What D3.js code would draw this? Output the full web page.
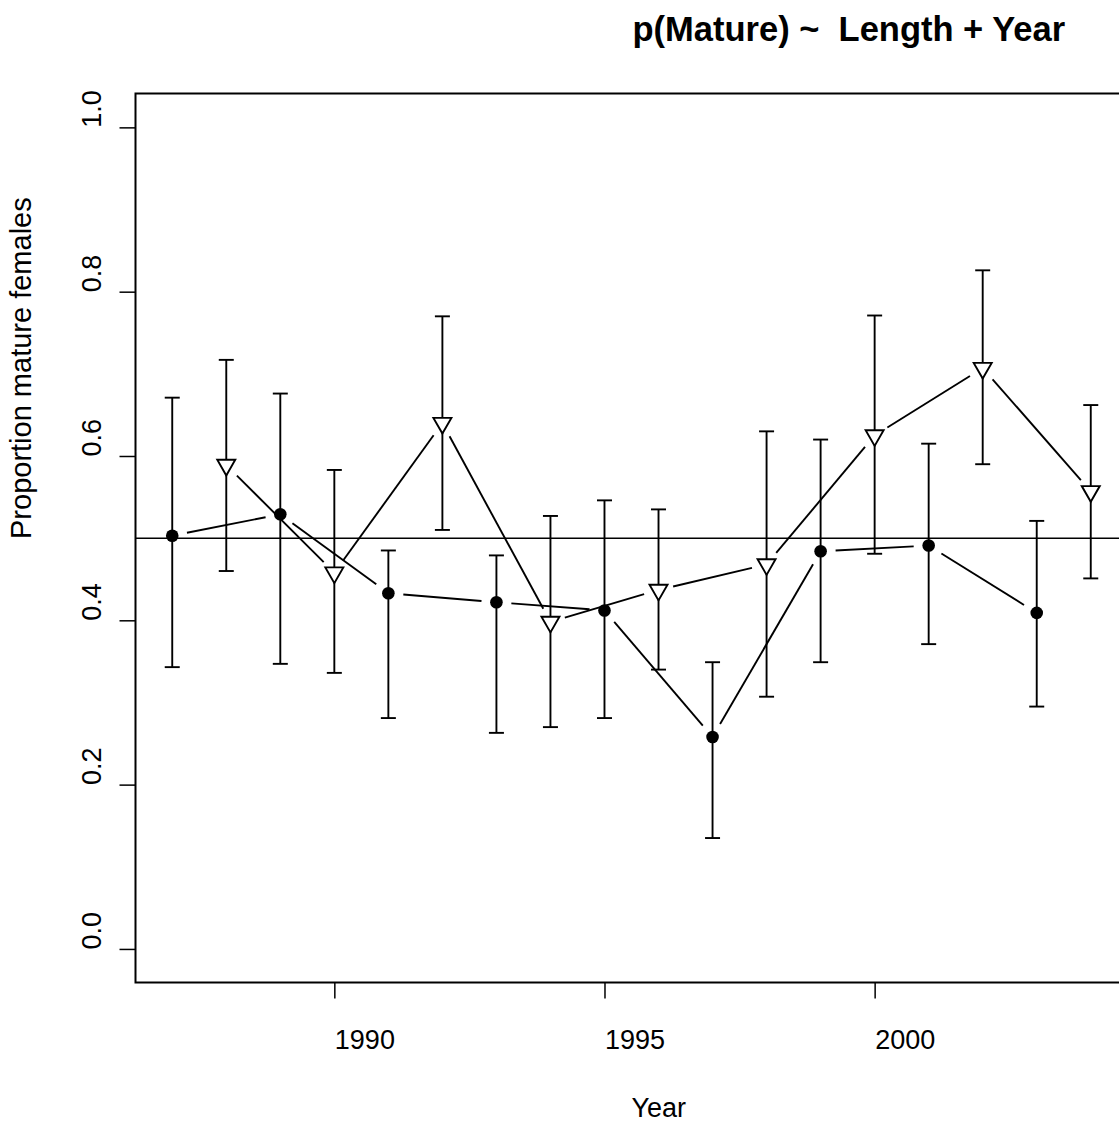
<!DOCTYPE html>
<html><head><meta charset="utf-8">
<script src="https://cdn.jsdelivr.net/npm/d3@7"></script>
<style>body{margin:0;background:#fff}svg{display:block}text{font-family:"Liberation Sans",Arial,sans-serif;fill:#000}</style>
</head><body>
<script>
const yearsA = [1987,1989,1991,1993,1995,1997,1999,2001,2003];
const estA   = [0.503,0.529,0.433,0.422,0.412,0.258,0.484,0.491,0.409];
const loA    = [0.343,0.347,0.281,0.263,0.281,0.135,0.349,0.371,0.295];
const hiA    = [0.671,0.676,0.485,0.479,0.546,0.349,0.620,0.615,0.521];

const yearsB = [1988,1990,1992,1994,1996,1998,2000,2002,2004];
const estB   = [0.589,0.458,0.640,0.398,0.437,0.468,0.625,0.707,0.557];
const loB    = [0.460,0.336,0.510,0.270,0.340,0.307,0.481,0.590,0.451];
const hiB    = [0.717,0.583,0.770,0.527,0.535,0.630,0.771,0.826,0.662];

const xTicks = [1990,1995,2000];
const yTicks = [0.0,0.2,0.4,0.6,0.8,1.0];
const refLine = 0.5;
const titleText = "p(Mature) ~\u00a0\u00a0Length + Year";
const xTitle = "Year";
const yTitle = "Proportion mature females";

const W = 1119, H = 1122;
const svg = d3.select("body").append("svg").attr("width", W).attr("height", H);

const x = d3.scaleLinear().domain([1986.32, 2004.68]).range([135.5, 1127.5]);
const y = d3.scaleLinear().domain([-0.04, 1.04]).range([981.8, 94.5]);

const L = 135.5, R = 1127.5, T = 93.5, B = 982.5;

// reference line
svg.append("line").attr("x1", L).attr("x2", R).attr("y1", y(refLine)).attr("y2", y(refLine))
  .attr("stroke", "#000").attr("stroke-width", 1.5);

// box
svg.append("rect").attr("x", L).attr("y", T).attr("width", R - L).attr("height", B - T)
  .attr("fill", "none").attr("stroke", "#000").attr("stroke-width", 2);

// x axis
const xa = svg.append("g").attr("transform", `translate(0,${B})`)
  .call(d3.axisBottom(x).tickValues(xTicks).tickSize(16).tickFormat(d3.format("d")));
xa.select(".domain").remove();
xa.selectAll(".tick line").attr("stroke", "#000").attr("stroke-width", 1.5);
xa.selectAll(".tick text").attr("text-anchor", "start").attr("y", 66).attr("dy", 0)
  .style("font-size", "27px").style("font-family", "Liberation Sans, Arial, sans-serif");

// y axis
const ya = svg.append("g").attr("transform", `translate(${L},0)`)
  .call(d3.axisLeft(y).tickValues(yTicks).tickSize(16).tickFormat(d3.format(".1f")));
ya.select(".domain").remove();
ya.selectAll(".tick line").attr("stroke", "#000").attr("stroke-width", 1.5);
ya.selectAll(".tick text").attr("text-anchor", "start").attr("x", 0).attr("dy", 0)
  .attr("transform", "translate(-34.5,0) rotate(-90)")
  .style("font-size", "27px").style("font-family", "Liberation Sans, Arial, sans-serif");

// titles
const cx = (L + R) / 2, cy = (T + B) / 2;
svg.append("text").attr("x", cx + 1).attr("y", 41).attr("text-anchor", "start")
  .style("font-size", "34.5px").style("font-weight", "bold").text(titleText);
svg.append("text").attr("x", cx).attr("y", 1117).attr("text-anchor", "start")
  .style("font-size", "27px").text(xTitle);
svg.append("text").attr("transform", `translate(31,${cy + 1}) rotate(-90)`).attr("text-anchor", "start")
  .style("font-size", "29px").text(yTitle);

// connecting lines with gaps (type = "b")
function gappedLines(years, est, gap) {
  const g = svg.append("g").attr("stroke", "#000").attr("stroke-width", 1.9);
  for (let i = 0; i < years.length - 1; i++) {
    const x1 = x(years[i]), y1 = y(est[i]), x2 = x(years[i+1]), y2 = y(est[i+1]);
    const d = Math.hypot(x2 - x1, y2 - y1);
    if (d <= 2 * gap) continue;
    const ux = (x2 - x1) / d, uy = (y2 - y1) / d;
    g.append("line").attr("x1", x1 + ux*gap).attr("y1", y1 + uy*gap)
      .attr("x2", x2 - ux*gap).attr("y2", y2 - uy*gap);
  }
}
gappedLines(yearsA, estA, 15);
gappedLines(yearsB, estB, 15);

// error bars
function errorBars(years, lo, hi) {
  const g = svg.append("g").attr("stroke", "#000").attr("stroke-width", 1.9);
  years.forEach((yr, i) => {
    const xx = x(yr);
    g.append("line").attr("x1", xx).attr("x2", xx).attr("y1", y(lo[i])).attr("y2", y(hi[i]));
    g.append("line").attr("x1", xx - 7.5).attr("x2", xx + 7.5).attr("y1", y(lo[i])).attr("y2", y(lo[i]));
    g.append("line").attr("x1", xx - 7.5).attr("x2", xx + 7.5).attr("y1", y(hi[i])).attr("y2", y(hi[i]));
  });
}
errorBars(yearsA, loA, hiA);
errorBars(yearsB, loB, hiB);

// points A: filled circles
svg.append("g").selectAll("circle").data(yearsA).join("circle")
  .attr("cx", d => x(d)).attr("cy", (d, i) => y(estA[i])).attr("r", 6.3).attr("fill", "#000");

// points B: down triangles
const th = 15.7, tw = 9;
svg.append("g").selectAll("path").data(yearsB).join("path")
  .attr("d", (d, i) => {
    const px = x(d), py = y(estB[i]);
    return `M${px - tw},${py - th/3}L${px + tw},${py - th/3}L${px},${py + 2*th/3}Z`;
  })
  .attr("fill", "#fff").attr("stroke", "#000").attr("stroke-width", 1.9);
</script>
</body></html>
